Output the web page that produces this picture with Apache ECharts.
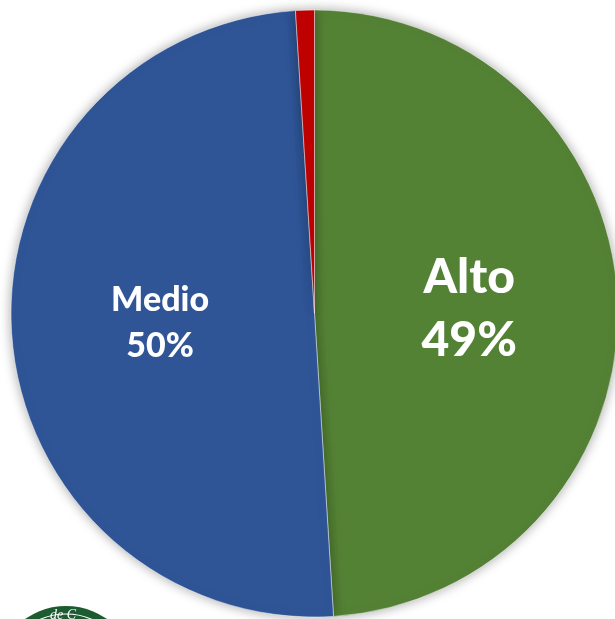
<!DOCTYPE html>
<html>
<head>
<meta charset="utf-8">
<script src="https://cdn.jsdelivr.net/npm/echarts@6/dist/echarts.min.js"></script>
<style>
html,body{margin:0;padding:0;background:#fff;}
#c{width:615px;height:619px;}
</style>
</head>
<body>
<div id="c"></div>
<script>
const categories = ['Alto', 'Medio', 'Bajo'];
const values = [49, 50, 1];
const colors = ['#548235', '#2F5597', '#C00000'];

const labelStyles = [
  { show: true, fontSize: 48, lineHeight: 63, padding: [12, 0, 0, 0] },
  { show: true, fontSize: 34, lineHeight: 46, padding: [10, 0, 0, 0] },
  { show: false }
];

const chart = echarts.init(document.getElementById('c'), null, { renderer: 'canvas' });
chart.setOption({
  backgroundColor: '#ffffff',
  animation: false,
  series: [{
    type: 'pie',
    center: [314.5, 313.5],
    radius: 303.5,
    startAngle: 90,
    clockwise: true,
    data: categories.map((c, i) => ({
      name: c,
      value: values[i],
      itemStyle: { color: colors[i] },
      label: labelStyles[i]
    })),
    itemStyle: {
      borderColor: 'rgba(255,255,255,0.6)',
      borderWidth: 0.8,
      shadowBlur: 12,
      shadowColor: 'rgba(0,0,0,0.35)'
    },
    label: {
      position: 'inside',
      formatter: '{b}\n{d}%',
      color: '#ffffff',
      fontFamily: 'Lato',
      fontWeight: 900
    },
    labelLine: { show: false },
    emphasis: { disabled: true }
  }],
  graphic: [
    { type: 'circle', shape: { cx: 66, cy: 677, r: 71 }, style: { fill: '#1d5b31' }, z: 100 },
    { type: 'circle', shape: { cx: 66, cy: 677, r: 63 }, style: { fill: 'none', stroke: '#ffffff', lineWidth: 1.2 }, z: 101 },
    { type: 'text', left: 50, top: 608, style: { text: 'de C', fill: '#ffffff', font: 'italic 14px serif' }, z: 102 }
  ]
});
</script>
</body>
</html>
